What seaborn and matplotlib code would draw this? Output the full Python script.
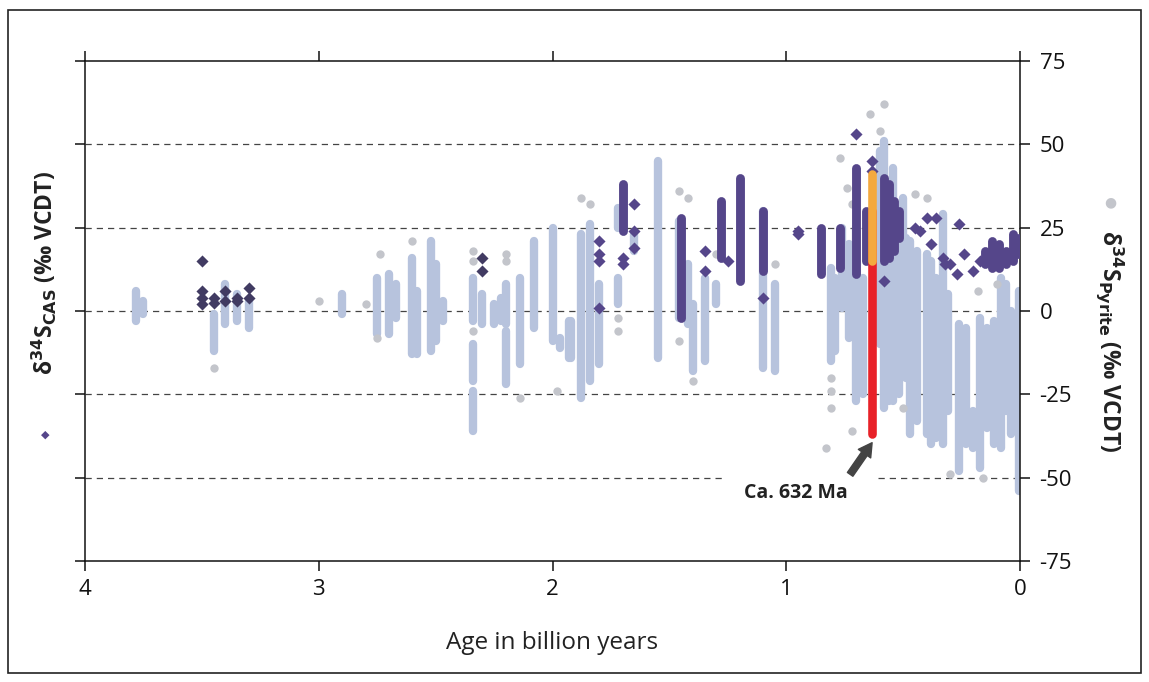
import matplotlib
matplotlib.use("Agg")
import matplotlib.pyplot as plt
import seaborn as sns
import pandas as pd
from matplotlib.patches import Rectangle

# ---------------- data ----------------
# dense pyrite columns: age (Ga), lowest and highest d34S value
pyr_col_age = [3.78, 3.75, 3.45, 3.40, 3.35, 3.30, 2.90, 2.75, 2.70, 2.67, 2.60, 2.58,
               2.52, 2.50, 2.47, 2.34, 2.34, 2.34, 2.30, 2.25, 2.22, 2.20, 2.20, 2.14,
               2.08, 2.00, 1.97, 1.93, 1.92, 1.88, 1.84, 1.80, 1.72, 1.72, 1.65, 1.55,
               1.46, 1.42, 1.40, 1.35, 1.30, 1.10, 1.05, 0.81, 0.79, 0.76, 0.73, 0.70,
               0.67, 0.60, 0.58, 0.56, 0.545, 0.52, 0.50, 0.49, 0.47, 0.44, 0.40, 0.38,
               0.36, 0.33, 0.31, 0.26, 0.23, 0.20, 0.17, 0.14, 0.11, 0.08, 0.06, 0.04,
               0.005]
pyr_col_lo = [-3, -1, -12, -4, -3, -5, -1, -7, -7, -2, -13, -13,
              -12, -9, -3, -3, -21, -36, -4, -4, -3, -4, -22, -16,
              -5, -9, -11, -14, -14, -26, -21, -16, 2, 25, 18, -14,
              -2, -4, -18, -15, 2, -17, -18, -15, -12, 1, -8, -27,
              -25, -10, -29, -27, -27, -25, 23, -20, -37, -33, -37, -40,
              -38, -40, -30, -48, -40, -41, -47, -35, -40, -41, -30, -37,
              -54]
pyr_col_hi = [6, 3, -1, 8, 5, 3, 5, 10, 11, 8, 16, 6,
              21, 14, 3, 10, -10, -24, 5, 2, 4, 8, -6, 10,
              21, 25, -8, -3, -3, 23, 26, 8, 10, 31, 23, 45,
              27, 14, 2, 10, 8, 30, 8, 13, 10, 25, 20, 25,
              10, 48, 51, 35, 43, 25, 34, 22, 21, 18, 17, 15,
              10, 29, 5, -4, -5, -30, -2, -5, -3, 10, 8, 0,
              6]

# scattered pyrite points
pyr_pt_age = [3.45, 3.00, 2.80, 2.74, 2.75, 2.60, 2.34, 2.34, 2.34, 2.20, 2.20, 2.14,
              1.98, 1.88, 1.84, 1.72, 1.72, 1.46, 1.46, 1.42, 1.40, 1.30, 1.05, 0.81,
              0.81, 0.81, 0.83, 0.77, 0.74, 0.72, 0.72, 0.64, 0.58, 0.60, 0.50, 0.40,
              0.18, 0.16, 0.45, 0.30, 0.10]
pyr_pt_val = [-17, 3, 2, 17, -8, 21, 18, 15, -6, 17, 15, -26,
              -24, 34, 32, -2, -6, 36, -9, 34, -21, 17, 14, -20,
              -24, -29, -41, 46, 37, 32, -36, 59, 62, 54, -29, 34,
              6, -50, 35, -49, 8]

# CAS (carbonate associated sulfate) columns and points
cas_col_age = [1.70, 1.45, 1.28, 1.20, 1.10, 0.85, 0.77, 0.70, 0.66, 0.58, 0.56, 0.54,
               0.52, 0.15, 0.12, 0.09, 0.06, 0.03, 0.01]
cas_col_lo = [24, -2, 16, 9, 12, 11, 13, 11, 15, 15, 16, 18,
              22, 14, 13, 13, 14, 15, 17]
cas_col_hi = [38, 28, 33, 40, 30, 25, 25, 43, 30, 40, 38, 33,
              30, 18, 21, 20, 18, 23, 22]
cas_pt_age = [3.50, 3.50, 3.50, 3.50, 3.45, 3.45, 3.40, 3.40, 3.35, 3.35, 3.30, 3.30,
              2.30, 2.30, 1.80, 1.80, 1.80, 1.80, 1.70, 1.70, 1.65, 1.65, 1.65, 1.35,
              1.35, 1.25, 1.10, 0.95, 0.95, 0.70, 0.632, 0.632, 0.58, 0.45, 0.43, 0.40,
              0.36, 0.38, 0.33, 0.32, 0.30, 0.27, 0.26, 0.24, 0.20, 0.17]
cas_pt_val = [15, 6, 4, 2, 4, 2.5, 6, 3, 4, 3, 7, 4,
              16, 12, 21, 17, 15, 1, 16, 14, 32, 24, 19, 18,
              12, 15, 4, 24, 23, 53, 45, 42, 9, 25, 24, 28,
              28, 20, 16, 14, 14, 11, 26, 17, 12, 15]

# the ca. 632 Ma section
sect_age = 0.632
red_lo, red_hi = -37, 30
orange_lo, orange_hi = 15, 41

x_ticks = [4, 3, 2, 1, 0]
y_ticks = [75, 50, 25, 0, -25, -50, -75]
grid_vals = [50, 25, 0, -25]

# ---------------- styling ----------------
sns.set_theme(style="white")
plt.rcParams["font.family"] = ["Open Sans", "DejaVu Sans"]
plt.rcParams["mathtext.fontset"] = "dejavusans"

c_pyr = "#b7c3dd"
c_pyr_pt = "#c3c5cb"
c_cas = "#55468a"
c_cas_dark = "#413b62"
c_red = "#e82128"
c_orange = "#f4a93e"

fig = plt.figure(figsize=(11.49, 6.82), dpi=100)
fig.patch.set_facecolor("white")
ax = fig.add_axes([0.074, 0.1774, 0.8138, 0.7331])
ax.set_facecolor("white")

# grid lines (the -50 line is interrupted behind the annotation label)
grid_style = dict(color="#444444", lw=0.9, ls=(0, (5, 4)), zorder=1)
for g in grid_vals:
    ax.axhline(g, **grid_style)
ax.axhline(-50, xmax=0.682, **grid_style)
ax.axhline(-50, xmin=0.848, **grid_style)

lw_col = 6.0
# pyrite columns
lc = ax.vlines(pyr_col_age, pyr_col_lo, pyr_col_hi, colors=c_pyr, lw=lw_col, zorder=2)
lc.set_capstyle("round")
pyr_df = pd.DataFrame({"age": pyr_pt_age, "val": pyr_pt_val})
sns.scatterplot(data=pyr_df, x="age", y="val", ax=ax, color=c_pyr_pt, s=36,
                linewidth=0, marker="o", zorder=3, legend=False)

# CAS
lc2 = ax.vlines(cas_col_age, cas_col_lo, cas_col_hi, colors=c_cas, lw=6.4, zorder=4)
lc2.set_capstyle("round")
cas_df = pd.DataFrame({"age": cas_pt_age, "val": cas_pt_val})
cas_df["old"] = cas_df["age"] > 2.0
sns.scatterplot(data=cas_df[cas_df["old"]], x="age", y="val", ax=ax, color=c_cas_dark,
                s=38, linewidth=0, marker="D", zorder=5, legend=False)
sns.scatterplot(data=cas_df[~cas_df["old"]], x="age", y="val", ax=ax, color=c_cas,
                s=38, linewidth=0, marker="D", zorder=5, legend=False)

# 632 Ma section
l3 = ax.vlines([sect_age], [red_lo], [red_hi], colors=c_red, lw=6.2, zorder=6)
l3.set_capstyle("round")
l4 = ax.vlines([sect_age], [orange_lo], [orange_hi], colors=c_orange, lw=6.2, zorder=7)
l4.set_capstyle("round")

ax.annotate("", xy=(0.633, -39.5), xytext=(0.727, -49.0),
            arrowprops=dict(arrowstyle="simple,head_width=0.9,head_length=0.8,tail_width=0.4",
                            color="#444444", shrinkA=0, shrinkB=0), zorder=8)
ax.text(0.958, -54.5, "Ca. 632 Ma", fontsize=14, fontweight="bold", color="#222222",
        ha="center", va="center", zorder=8)

ax.set_xlim(4, 0)
ax.set_ylim(-75, 75)
ax.set_xticks(x_ticks)
ax.set_xticklabels([str(t) for t in x_ticks], fontsize=16)
ax.set_yticks(y_ticks)
ax.set_yticklabels([str(t) for t in y_ticks], fontsize=16)
ax.tick_params(axis="both", which="both", direction="out", length=7, width=1.1,
               color="#111111", labelcolor="#111111",
               bottom=True, top=True, left=True, right=True,
               labelbottom=True, labeltop=False, labelleft=False, labelright=True)
ax.tick_params(axis="y", pad=7)
ax.tick_params(axis="x", pad=6)
for s in ax.spines.values():
    s.set_visible(True)
    s.set_color("#111111")
    s.set_linewidth(1.1)

ax.set_xlabel("Age in billion years", fontsize=17.5, color="#222222", labelpad=22)
ax.set_ylabel("")

# left label with diamond marker
fig.text(0.039, 0.60, r"δ$^{\mathbf{34}}$S$_{\mathbf{CAS}}$ (‰ VCDT)", rotation=90,
         fontsize=16.5, fontweight="bold", ha="center", va="center", color="#222222")
fig.text(0.039, 0.362, "◆", fontsize=8, color=c_cas, ha="center", va="center",
         family=["DejaVu Sans"])
# right label with circle marker
fig.text(0.966, 0.50, r"δ$^{\mathbf{34}}$S$_{\mathbf{Pyrite}}$ (‰ VCDT)", rotation=270,
         fontsize=16.5, fontweight="bold", ha="center", va="center", color="#222222")
fig.text(0.966, 0.704, "●", fontsize=10, color=c_pyr_pt, ha="center", va="center",
         family=["DejaVu Sans"])

# frame around the whole figure
fig.patches.append(Rectangle((0.007, 0.013), 0.986, 0.972, transform=fig.transFigure,
                             fill=False, edgecolor="#222222", lw=1.2))

fig.savefig("out.png", dpi=100, facecolor="white")
